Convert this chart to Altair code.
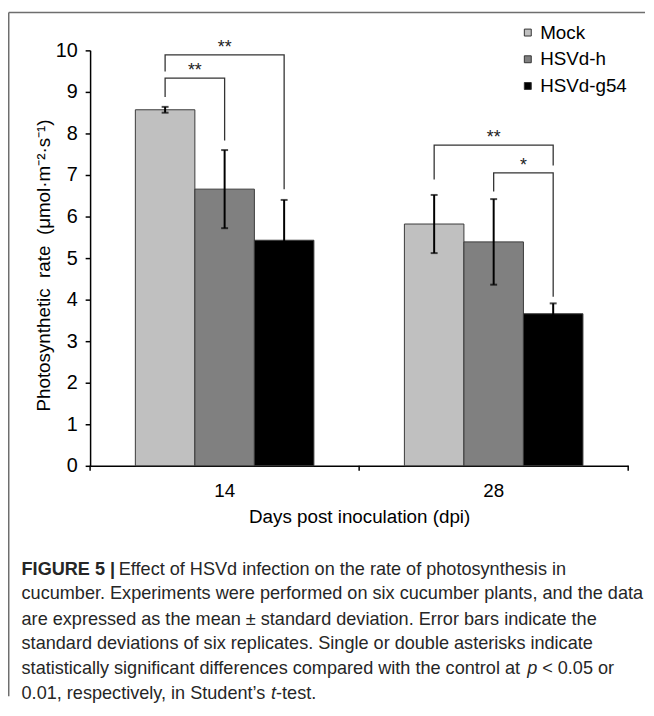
import altair as alt
import pandas as pd

# ---------------- data ----------------
days = ["14", "28"]
series = ["Mock", "HSVd-h", "HSVd-g54"]
fill_colors = ["#c0c0c0", "#808080", "#000000"]

mean_day14 = [8.57, 6.66, 5.43]
mean_day28 = [5.82, 5.39, 3.66]
sd_day14 = [0.07, 0.94, 0.97]
sd_day28 = [0.70, 1.03, 0.25]

# significance brackets
sig_day = ["14", "14", "28", "28"]
sig_from = ["Mock", "Mock", "Mock", "HSVd-h"]
sig_to = ["HSVd-h", "HSVd-g54", "HSVd-g54", "HSVd-g54"]
sig_level = [9.33, 9.89, 7.72, 7.05]
sig_left_end = [8.88, 9.49, 6.89, 6.60]
sig_right_end = [7.83, 6.66, 7.23, 4.07]
sig_text = ["**", "**", "**", "*"]

y_tick_values = [0, 1, 2, 3, 4, 5, 6, 7, 8, 9, 10]
x_boundaries = [0, 1, 2]

caption_line1_bold = "FIGURE 5 |"
caption_line1 = "Effect of HSVd infection on the rate of photosynthesis in"
caption_line2 = "cucumber. Experiments were performed on six cucumber plants, and the data"
caption_line3 = "are expressed as the mean \u00b1 standard deviation. Error bars indicate the"
caption_line4 = "standard deviations of six replicates. Single or double asterisks indicate"
caption_line5a = "statistically significant differences compared with the control at"
caption_line5p = "p"
caption_line5b = "< 0.05 or"
caption_line6a = "0.01, respectively, in Student\u2019s"
caption_line6t = "t"
caption_line6b = "-test."

# ---------------- layout ----------------
W, H = 544, 420
PAD_INNER = 0.3364
PAD_OUTER = PAD_INNER / 2
HALF_BAR = (W / 2) * (1 - PAD_INNER) / len(series) / 2
FONT = "Liberation Sans, Arial, Helvetica, sans-serif"
CAP_FS = 18.3

# ---------------- tables ----------------
rows = []
for d, means, sds in [("14", mean_day14, sd_day14), ("28", mean_day28, sd_day28)]:
    for s, m, sd in zip(series, means, sds):
        rows.append({"day": d, "series": s, "mean": m, "low": m - sd, "high": m + sd})
bars_df = pd.DataFrame(rows)

path_rows = []
lab_mid_rows = []
lab_adj_rows = []
for i in range(len(sig_day)):
    pts = [(sig_from[i], sig_left_end[i]), (sig_from[i], sig_level[i]),
           (sig_to[i], sig_level[i]), (sig_to[i], sig_right_end[i])]
    for k, (s, v) in enumerate(pts):
        path_rows.append({"bracket": i, "step": k, "day": sig_day[i], "series": s, "val": v})
    i_from, i_to = series.index(sig_from[i]), series.index(sig_to[i])
    if i_to - i_from == 2:
        lab_mid_rows.append({"day": sig_day[i], "series": series[i_from + 1],
                             "val": sig_level[i], "txt": sig_text[i]})
    else:
        lab_adj_rows.append({"day": sig_day[i], "series": sig_from[i],
                             "val": sig_level[i], "txt": sig_text[i]})
path_df = pd.DataFrame(path_rows)
lab_mid_df = pd.DataFrame(lab_mid_rows)
lab_adj_df = pd.DataFrame(lab_adj_rows)
ticks_df = pd.DataFrame({"pos": x_boundaries})
one_df = pd.DataFrame({"k": [0]})

# ---------------- encodings ----------------
x_scale = alt.Scale(domain=days, paddingInner=PAD_INNER, paddingOuter=PAD_OUTER)
y_scale = alt.Scale(domain=[0, 10], nice=False, zero=True)
xoff = alt.XOffset("series:N", scale=alt.Scale(domain=series, paddingInner=0, paddingOuter=0))

x_axis = alt.Axis(
    title="Days post inoculation (dpi)", labelAngle=0, ticks=False, tickSize=0,
    labelPadding=31, labelBaseline="alphabetic", labelFontSize=19,
    titleFontSize=19, titleFontWeight="normal", titleY=57, titleBaseline="alphabetic",
    domainColor="black", domainWidth=1.5, labelColor="black", titleColor="black",
    grid=False,
)
y_axis = alt.Axis(
    values=y_tick_values,
    title="Photosynthetic\u00a0 rate\u00a0 (\u03bcmol\u00b7m\u207b\u00b2\u00b7s\u207b\u00b9)",
    tickSize=5, tickWidth=1.5, tickColor="black", labelPadding=8, labelFontSize=20,
    labelColor="black", titleFontSize=19, titleFontWeight="normal", titleColor="black",
    titleAngle=-90, titleX=-41, titleY=217, titleAlign="center",
    titleBaseline="alphabetic", domainColor="black", domainWidth=1.5, grid=False,
)

x_enc = alt.X("day:N", sort=days, scale=x_scale, axis=x_axis)


def y_enc(field):
    return alt.Y(field, scale=y_scale, axis=y_axis)


bars = alt.Chart(bars_df).mark_bar(stroke="#3a3a3a", strokeWidth=1).encode(
    x=x_enc,
    xOffset=xoff,
    y=y_enc("mean:Q"),
    color=alt.Color(
        "series:N", sort=series,
        scale=alt.Scale(domain=series, range=fill_colors),
        legend=alt.Legend(
            title=None, orient="none", legendX=433, legendY=-27.5,
            symbolType="square", symbolSize=49, symbolStrokeColor="#333333",
            symbolStrokeWidth=1, labelFontSize=19, labelOffset=3, rowPadding=7,
            padding=0, labelColor="black", labelFont=FONT,
        ),
    ),
)

err_rules = alt.Chart(bars_df).mark_rule(color="black", strokeWidth=2).encode(
    x=x_enc, xOffset=xoff,
    y=y_enc("low:Q"),
    y2="high:Q",
)

caps = alt.Chart(bars_df).transform_fold(["low", "high"], as_=["which", "cap"]).mark_tick(
    color="black", size=7, thickness=2, orient="horizontal"
).encode(
    x=x_enc, xOffset=xoff,
    y=y_enc("cap:Q"),
)

brackets = alt.Chart(path_df).mark_line(color="#333333", strokeWidth=1.3).encode(
    x=x_enc, xOffset=xoff,
    y=y_enc("val:Q"),
    detail="bracket:N",
    order="step:Q",
)

lab_mid = alt.Chart(lab_mid_df).mark_text(
    fontSize=18, baseline="alphabetic", dy=-2, color="#222222", font=FONT
).encode(
    x=x_enc, xOffset=xoff,
    y=y_enc("val:Q"),
    text="txt:N",
)

lab_adj = alt.Chart(lab_adj_df).mark_text(
    fontSize=18, baseline="alphabetic", dy=-2, dx=HALF_BAR, color="#222222", font=FONT
).encode(
    x=x_enc, xOffset=xoff,
    y=y_enc("val:Q"),
    text="txt:N",
)

inner = alt.layer(bars, err_rules, caps, brackets, lab_mid, lab_adj)

x_ticks = alt.Chart(ticks_df).mark_rule(color="black", strokeWidth=1.5).encode(
    x=alt.X("pos:Q", scale=alt.Scale(domain=[0, 2], nice=False, zero=False), axis=None),
    y=alt.value(H),
    y2=alt.value(H + 5),
)

# figure frame (journal panel border)
frame_left = alt.Chart(one_df).mark_rule(color="#6e6e6e", strokeWidth=1.5).encode(
    x=alt.value(-82.25), y=alt.value(-38.25), y2=alt.value(653)
)
frame_top = alt.Chart(one_df).mark_rule(color="#6e6e6e", strokeWidth=1.5).encode(
    x=alt.value(-82.25), x2=alt.value(561), y=alt.value(-38.25)
)


def cap_text(txt, x, y, weight="normal", style="normal"):
    return alt.Chart(one_df).mark_text(
        text=txt, align="left", baseline="alphabetic", fontSize=CAP_FS, font=FONT,
        fontWeight=weight, fontStyle=style, color="#262626",
    ).encode(x=alt.value(x), y=alt.value(y))


X0 = -69.3
caption = [
    cap_text(caption_line1_bold, X0, 530, weight="bold"),
    cap_text(caption_line1, 29, 530),
    cap_text(caption_line2, X0, 555),
    cap_text(caption_line3, X0, 580.5),
    cap_text(caption_line4, X0, 605),
    cap_text(caption_line5a, X0, 630),
    cap_text(caption_line5p, 442, 630, style="italic"),
    cap_text(caption_line5b, 457, 630),
    cap_text(caption_line6a, X0, 656),
    cap_text(caption_line6t, 183, 656, style="italic"),
    cap_text(caption_line6b, 188, 656),
]

chart = alt.layer(inner, x_ticks, frame_left, frame_top, *caption).resolve_scale(
    x="independent"
).properties(
    width=W, height=H, padding=0
).configure_view(
    stroke=None
).configure_axis(
    labelFont=FONT, titleFont=FONT
).configure_legend(
    labelFont=FONT
).configure_text(
    font=FONT
)

chart.save("out.html", embed_options={"renderer": "svg", "actions": False})
